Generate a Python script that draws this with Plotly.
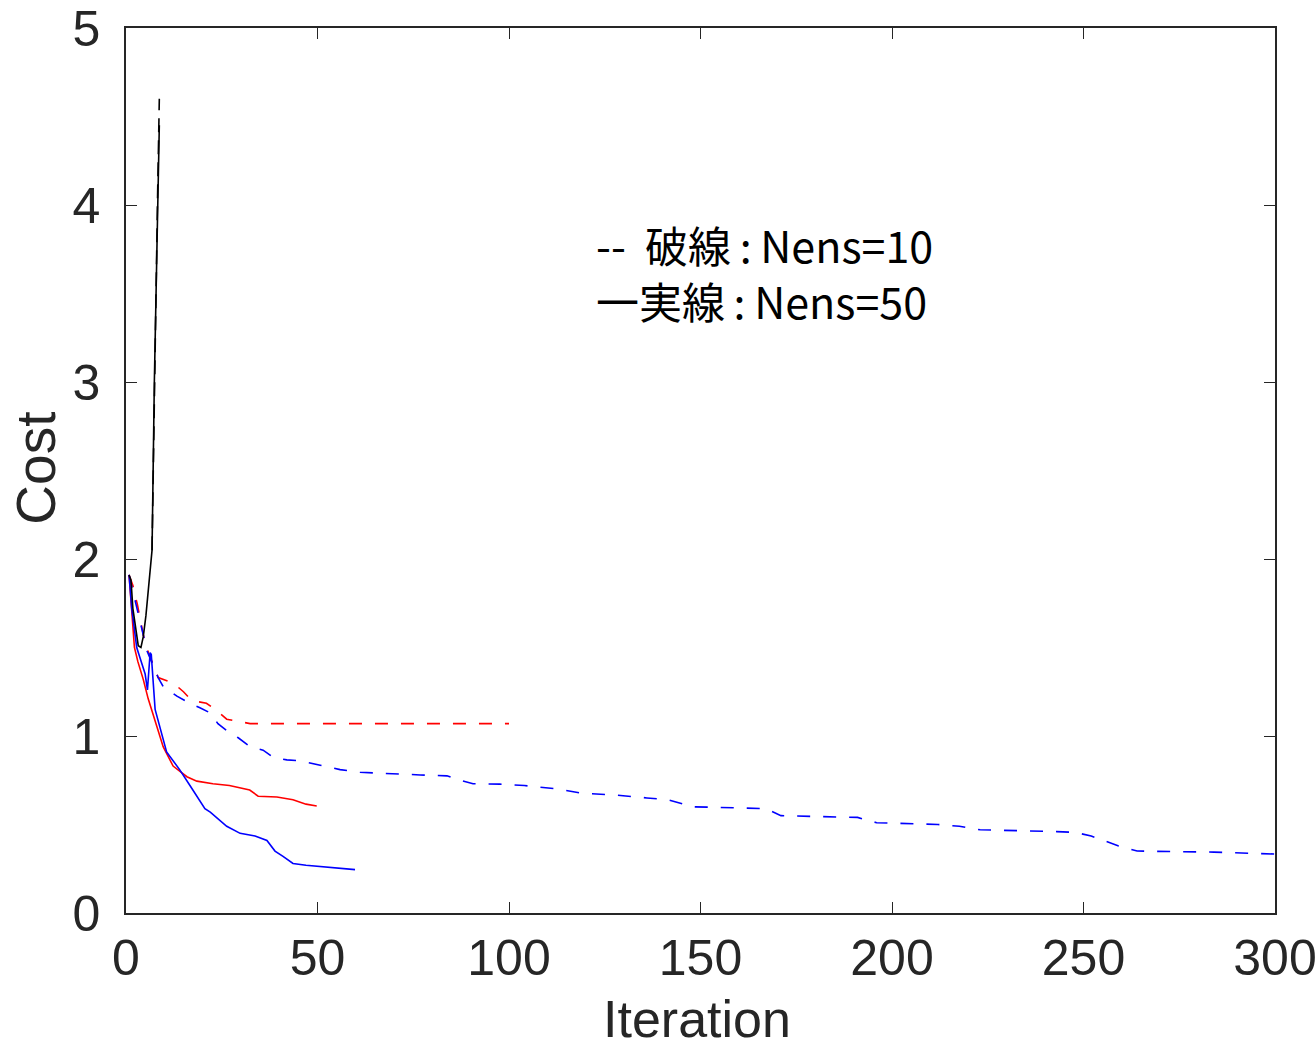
import plotly.graph_objects as go

# ---- data ----
black_solid_x = [0.8, 1.3, 1.8, 2.6, 3.2, 3.9, 4.5, 5.2, 5.8, 6.4, 6.8, 7.4, 8.2, 8.7]
black_solid_y = [1.91, 1.88, 1.72, 1.59, 1.51, 1.50, 1.56, 1.68, 1.81, 1.94, 2.05, 3.0, 4.0, 4.45]

black_dash_x = [6.8, 7.4, 8.2, 8.7]
black_dash_y = [2.05, 3.0, 4.0, 4.6]

red_solid_x = [0.8, 1.5, 2.2, 3.1, 4.5, 5.8, 7.0, 9.7, 12.3, 15.9, 18.5, 22.7, 27.0, 32.3,
               34.5, 39.4, 43.6, 47.0, 49.8]
red_solid_y = [1.91, 1.70, 1.50, 1.42, 1.32, 1.21, 1.13, 0.94, 0.83, 0.77, 0.745, 0.73, 0.72,
               0.695, 0.66, 0.655, 0.64, 0.615, 0.605]

blue_solid_x = [0.8, 1.5, 2.8, 5.0, 5.6, 6.3, 6.6, 7.6, 10.6, 14.0, 16.7, 20.6, 22.0, 26.3,
                29.8, 33.7, 36.8, 38.9, 41.0, 43.6, 47.0, 52.5, 59.8]
blue_solid_y = [1.91, 1.72, 1.50, 1.35, 1.26, 1.47, 1.46, 1.15, 0.91, 0.81, 0.72, 0.59, 0.57,
                0.49, 0.45, 0.435, 0.41, 0.35, 0.32, 0.28, 0.27, 0.26, 0.245]

red_dash_x = [0.8, 1.8, 3.0, 5.0, 8.4, 12.3, 15.0, 17.2, 21.0, 23.3, 26.3, 28.9, 32.4, 100.0]
red_dash_y = [1.91, 1.85, 1.74, 1.52, 1.33, 1.30, 1.25, 1.20, 1.185, 1.15, 1.095, 1.085, 1.07, 1.07]

blue_dash_x = [0.8, 2.0, 3.5, 4.3, 5.5, 8.4, 9.7, 13.3, 16.2, 19.3, 22.0, 24.0, 26.3, 29.3,
               32.4, 35.8, 38.4, 42.0, 45.4, 50.7, 55.9, 61.1, 69.8, 76.8, 83.8, 86.4, 90.6,
               97.6, 104, 113, 119, 128, 136, 141.5, 148, 161.6, 167, 171, 191, 196, 212,
               217.6, 223, 243, 248, 252, 259, 264, 284, 300]
blue_dash_y = [1.91, 1.80, 1.65, 1.58, 1.48, 1.33, 1.28, 1.225, 1.19, 1.16, 1.13, 1.07, 1.03,
               0.99, 0.94, 0.92, 0.88, 0.865, 0.86, 0.835, 0.81, 0.795, 0.785, 0.78, 0.775,
               0.755, 0.73, 0.728, 0.72, 0.70, 0.677, 0.666, 0.65, 0.64, 0.60, 0.595, 0.59,
               0.55, 0.54, 0.51, 0.50, 0.49, 0.47, 0.46, 0.455, 0.435, 0.38, 0.35, 0.344, 0.333]

x_ticks = [0, 50, 100, 150, 200, 250, 300]
y_ticks = [0, 1, 2, 3, 4, 5]
legend_text = "--  破線\u2009:\u2009Nens=10<br>一実線\u2009:\u2009Nens=50"
x_title = "Iteration"
y_title = "Cost"

DASH = "13px,13px"
LW = 1.6

fig = go.Figure()
series = [
    (red_dash_x, red_dash_y, "#ff0000", DASH),
    (blue_dash_x, blue_dash_y, "#0000ff", DASH),
    (red_solid_x, red_solid_y, "#ff0000", "solid"),
    (blue_solid_x, blue_solid_y, "#0000ff", "solid"),
    (black_solid_x, black_solid_y, "#000000", "solid"),
    (black_dash_x, black_dash_y, "#000000", "14px,8px"),
]
for xs, ys, col, dash in series:
    fig.add_trace(go.Scatter(x=xs, y=ys, mode="lines",
                             line=dict(color=col, width=LW, dash=dash),
                             showlegend=False, hoverinfo="skip"))

FONT = "Liberation Sans, Arial, sans-serif"
tick_font = dict(family=FONT, size=50, color="#262626")
title_font = dict(family=FONT, size=55, color="#262626")
xtitle_font = dict(family=FONT, size=52, color="#262626")

axis_common = dict(showline=True, linecolor="#262626", linewidth=1.5, mirror="ticks",
                   ticks="inside", ticklen=11, tickwidth=1.3, tickcolor="#262626",
                   showgrid=False, zeroline=False, tickfont=tick_font,
                   automargin=False, ticklabeloverflow="allow")

fig.update_xaxes(range=[0, 300], tickvals=x_ticks, ticktext=[str(v) for v in x_ticks],
                 ticklabelstandoff=0, **axis_common)
fig.update_yaxes(range=[0, 5], tickvals=y_ticks, ticktext=[str(v) for v in y_ticks],
                 ticklabelstandoff=14, **axis_common)

# axis titles
fig.add_annotation(x=0.497, y=-0.1198, xref="paper", yref="paper", text=x_title,
                   showarrow=False, xanchor="center", yanchor="middle", font=xtitle_font)
fig.add_annotation(x=-0.0785, y=0.503, xref="paper", yref="paper", text=y_title,
                   showarrow=False, xanchor="center", yanchor="middle", textangle=-90,
                   font=title_font)

# in-plot legend text
fig.add_annotation(x=122.2, y=3.623, xref="x", yref="y", text=legend_text, showarrow=False,
                   xanchor="left", yanchor="middle", align="left",
                   font=dict(family="Noto Sans CJK JP", size=43, color="#000000"))

fig.update_layout(width=1316, height=1050, margin=dict(l=126, r=41, t=28, b=137),
                  plot_bgcolor="white", paper_bgcolor="white")

fig.write_html("out.html")
